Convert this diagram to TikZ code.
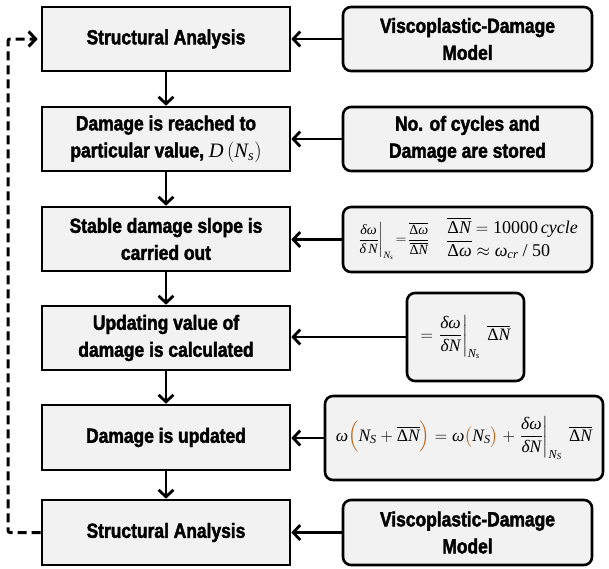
\documentclass[tikz,border=0pt]{standalone}
\usepackage{amsmath}
\usepackage{fontspec}
\setmainfont{Liberation Sans}[FakeStretch=0.85, BoldFeatures={FakeBold=2}]
\newfontfamily\tms{Liberation Serif}
\newcommand\tv[1]{\text{\tms\mdseries\itshape #1}}
\newcommand\tu[1]{\text{\tms\mdseries\upshape #1}}
\usetikzlibrary{arrows.meta}
\definecolor{boxfill}{HTML}{F2F2F2}
\definecolor{parcol}{HTML}{B8651B}
\tikzset{
  lbox/.style={draw=black, line width=2.6pt, fill=boxfill, minimum width=248pt, minimum height=64pt, inner sep=0pt, align=center, font=\fontsize{20.5}{27}\selectfont\bfseries},
  rbox/.style={lbox, rounded corners=8pt, minimum width=249pt},
  flow/.style={line width=2.8pt, -{Straight Barb[length=7pt,width=15pt]}},
  back/.style={line width=3pt, dash pattern=on 9pt off 5pt, -{Straight Barb[length=7pt,width=15pt]}}
}
\begin{document}
\begin{tikzpicture}[x=1pt,y=-1pt]
\useasboundingbox (0,0) rectangle (609,568);
% left column
\node[lbox] (L1) at (166,39) {Structural Analysis};
\node[lbox] (L2) at (166,139) {Damage is reached to\\particular value, $\tv{D}\left(\tv{N}_{\tv{s}}\right)$};
\node[lbox] (L3) at (166,239) {Stable damage slope is\\carried out};
\node[lbox] (L4) at (166,338) {Updating value of\\damage is calculated};
\node[lbox, minimum height=65pt] (L5) at (166,437.5) {Damage is updated};
\node[lbox, minimum height=65pt] (L6) at (166,532.5) {Structural Analysis};
% right column
\node[rbox] (R1) at (467.5,39) {Viscoplastic-Damage\\Model};
\node[rbox] (R2) at (467.5,139) {No. of cycles and\\Damage are stored};
\node[rbox, minimum height=65pt, font=\mdseries] (R3) at (467.5,239.5) {%
  {\fontsize{14}{16}\selectfont$\left.\dfrac{\tv{δω}}{\tv{δ\,N}}\right|_{\tv{N}_{\tv{s}}}\!=\!\dfrac{\overline{\tu{Δ}\tv{ω}}}{\overline{\tu{Δ}\tv{N}}}$}\hspace{18pt}%
  {\fontsize{18}{25}\selectfont\begin{tabular}{@{}l@{}}$\overline{\tu{Δ}\tv{N}}=\tu{10000}\,\tv{cycle}$\\[-2pt]$\overline{\tu{Δ}\tv{ω}}\approx\tv{ω}_{\tv{cr}}\ \tu{/ 50}$\end{tabular}}};
\node[rbox, minimum width=117pt, minimum height=88pt, font=\fontsize{17.5}{20}\selectfont\mdseries] (R4) at (465.5,337) {%
  $=\left.\dfrac{\tv{δω}}{\tv{δN}}\right|_{\tv{N}_{\tv{s}}}\ \overline{\tu{Δ}\tv{N}}$};
\node[rbox, minimum width=278pt, minimum height=84pt, font=\fontsize{17.5}{20}\selectfont\mdseries] (R5) at (464,438) {%
  $\tv{ω}{\color{parcol}\Big(}\tv{N}_{\tv{S}}+\overline{\tu{Δ}\tv{N}}{\color{parcol}\Big)}=\tv{ω}{\color{parcol}\big(}\tv{N}_{\tv{S}}{\color{parcol}\big)}+\left.\dfrac{\tv{δω}}{\tv{δN}}\right|_{\tv{N}_{\tv{S}}}\ \overline{\tu{Δ}\tv{N}}$};
\node[rbox, minimum height=65pt] (R6) at (467.5,532.5) {Viscoplastic-Damage\\Model};
% vertical flow
\draw[flow] (L1) -- (L2);
\draw[flow] (L2) -- (L3);
\draw[flow] (L3) -- (L4);
\draw[flow] (L4) -- (L5);
\draw[flow] (L5) -- (L6);
% horizontal inputs
\draw[flow] (R1.west) -- (L1.east);
\draw[flow] (R2.west) -- (L2.east);
\draw[flow] (R3.west) -- (R3.west -| L3.east);
\draw[flow] (R4.west) -- (R4.west -| L4.east);
\draw[flow] (R5.west) -- (R5.west -| L5.east);
\draw[flow] (R6.west) -- (L6.east);
% feedback loop
\coordinate (fb) at (8,532.5);
\draw[back, rounded corners=2pt, shorten >=3pt] (L6.west) -- (fb) |- (L1.west);
\end{tikzpicture}
\end{document}
